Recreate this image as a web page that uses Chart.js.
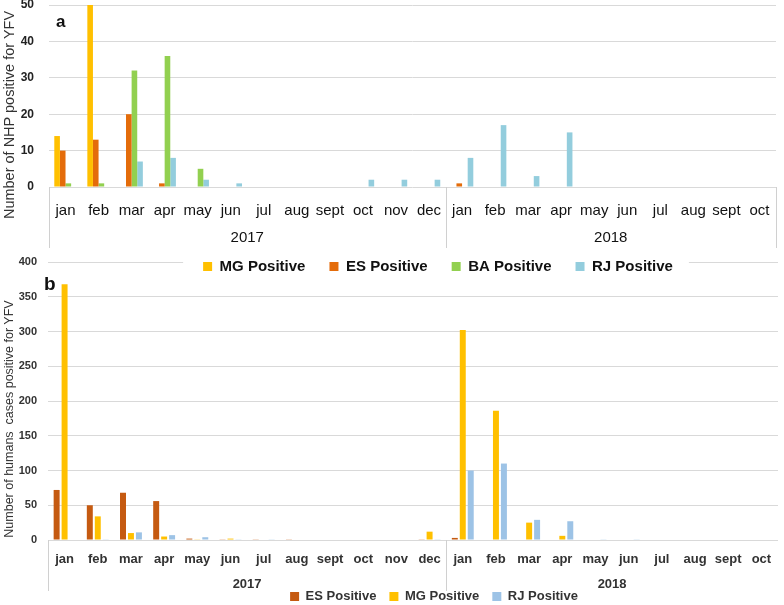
<!DOCTYPE html>
<html>
<head>
<meta charset="utf-8">
<script src="https://cdn.jsdelivr.net/npm/chart.js@4.4.1/dist/chart.umd.min.js"></script>
<style>
  html, body { margin: 0; padding: 0; background: #fff; overflow: hidden; }
  #lienzo { position: relative; width: 784px; height: 605px; font-family: 'Liberation Sans', Arial, sans-serif; }
  canvas { position: absolute; left: 0; }
  .titulo-y { position: absolute; white-space: nowrap; text-align: center; transform: rotate(-90deg); transform-origin: center center; color: #333; }
  .panel { position: absolute; font-weight: bold; color: #111; }
</style>
</head>
<body>
<div id="lienzo">
  <canvas id="graficoHumanos" width="784" height="368" style="top:245px"></canvas>
  <canvas id="graficoNHP" width="784" height="284" style="top:0px"></canvas>
  <div class="panel" style="left:56px;top:12px;font-size:17px">a</div>
  <div class="panel" style="left:44px;top:273px;font-size:19px">b</div>
  <div class="titulo-y" style="width:260px;left:-121px;top:106px;font-size:14.5px;line-height:18px">Number of NHP positive for YFV</div>
  <div class="titulo-y" style="width:280px;left:-131px;top:411px;font-size:12.5px;line-height:16px">Number of humans&nbsp; cases positive for YFV</div>
</div>
<script>
// meses y años (eje x de dos niveles)
const meses = ['jan','feb','mar','apr','may','jun','jul','aug','sept','oct','nov','dec',
               'jan','feb','mar','apr','may','jun','jul','aug','sept','oct'];
const anios = ['2017', '2018'];
const mesesPorAnio = [12, 10];

// panel a: primates no humanos (NHP)
const nhpMG = [14,50,0,0,0,0,0,0,0,0,0,0, 0,0,0,0,0,0,0,0,0,0];
const nhpES = [10,13,20,1,0,0,0,0,0,0,0,0, 1,0,0,0,0,0,0,0,0,0];
const nhpBA = [1,1,32,36,5,0,0,0,0,0,0,0, 0,0,0,0,0,0,0,0,0,0];
const nhpRJ = [0,0,7,8,2,1,0,0,0,2,2,2, 8,17,3,15,0,0,0,0,0,0];

// panel b: casos humanos
const humES = [72,50,68,56,2,1,1,1,0,0,0,1, 3,0,0,0,0,0,0,0,0,0];
const humMG = [368,34,10,5,1,2,0,0,0,0,0,12, 302,186,25,6,0,0,0,0,0,0];
const humRJ = [0,1,11,7,4,1,1,0,0,0,0,1, 100,110,29,27,1,1,0,0,0,0];

const fuente = "'Liberation Sans', Arial, sans-serif";

// dibuja la fila de años y las líneas separadoras bajo el eje x
const cajaAnios = {
  id: 'cajaAnios',
  afterDraw(chart, args, opts) {
    const x = chart.scales.x;
    const ctx = chart.ctx;
    const paso = x.getPixelForValue(1) - x.getPixelForValue(0);
    const base = chart.chartArea.bottom;
    const bordes = [x.getPixelForValue(0) - paso / 2];
    ctx.save();
    ctx.font = opts.font;
    ctx.fillStyle = opts.color;
    ctx.textAlign = 'center';
    ctx.textBaseline = 'middle';
    let inicio = 0;
    mesesPorAnio.forEach((n, i) => {
      const izq = x.getPixelForValue(inicio) - paso / 2;
      const der = x.getPixelForValue(inicio + n - 1) + paso / 2;
      ctx.fillText(anios[i], (izq + der) / 2, opts.yearY);
      bordes.push(der);
      inicio += n;
    });
    if (!opts.lineaDerecha) bordes.pop();
    ctx.strokeStyle = opts.lineColor;
    ctx.lineWidth = 1;
    bordes.forEach(b => {
      const px = Math.round(b) + 0.5;
      ctx.beginPath();
      ctx.moveTo(px, base);
      ctx.lineTo(px, opts.lineBottom);
      ctx.stroke();
    });
    ctx.restore();
  }
};

// desplaza la leyenda y le pone fondo blanco
const leyendaFondo = {
  id: 'leyendaFondo',
  afterLayout(chart, args, opts) {
    const l = chart.legend;
    l.left += opts.shift;
    l.right += opts.shift;
  },
  beforeDraw(chart, args, opts) {
    if (!opts.fondo) return;
    const l = chart.legend;
    const ancho = l.lineWidths[0];
    const centro = (l.left + l.right) / 2;
    const pad = l.options.labels.padding;
    const ctx = chart.ctx;
    ctx.save();
    ctx.fillStyle = '#fff';
    ctx.fillRect(centro - ancho / 2 - 8, l.top + pad - 4, ancho + 12, 24);
    ctx.restore();
  }
};

new Chart(document.getElementById('graficoNHP').getContext('2d'), {
  type: 'bar',
  data: {
    labels: meses,
    datasets: [
      { label: 'MG Positive', data: nhpMG, backgroundColor: '#FFC000' },
      { label: 'ES Positive', data: nhpES, backgroundColor: '#E46C0A' },
      { label: 'BA Positive', data: nhpBA, backgroundColor: '#92D050' },
      { label: 'RJ Positive', data: nhpRJ, backgroundColor: '#93CDDD' }
    ]
  },
  options: {
    responsive: false,
    animation: false,
    datasets: { bar: { categoryPercentage: 0.68, barPercentage: 1.0 } },
    layout: { padding: { top: 0, right: 8, left: 0, bottom: 0 } },
    plugins: {
      tooltip: { enabled: false },
      legend: {
        position: 'bottom',
        labels: { boxWidth: 9, boxHeight: 9, padding: 24, color: '#111',
                  font: { family: fuente, size: 15, weight: 'bold' } }
      },
      leyendaFondo: { shift: 50, fondo: true },
      cajaAnios: { yearY: 238, lineBottom: 248, lineaDerecha: true, lineColor: '#d0d0d0',
                   color: '#111', font: '15px ' + fuente }
    },
    scales: {
      x: {
        grid: { display: false },
        border: { display: false },
        ticks: { autoSkip: false, maxRotation: 0, padding: 7, color: '#111',
                 font: { family: fuente, size: 15 } },
        afterFit(s) { s.height = 48; }
      },
      y: {
        min: 0, max: 50,
        border: { display: false },
        grid: { color: '#d9d9d9', drawTicks: false },
        ticks: { stepSize: 10, padding: 15, color: '#222', font: { family: fuente, size: 12, weight: 'bold' } },
        afterFit(s) { s.width = 49; s.paddingTop = 5; s.paddingBottom = 0; }
      }
    }
  },
  plugins: [cajaAnios, leyendaFondo]
});

new Chart(document.getElementById('graficoHumanos').getContext('2d'), {
  type: 'bar',
  data: {
    labels: meses,
    datasets: [
      { label: 'ES Positive', data: humES, backgroundColor: '#C55A11' },
      { label: 'MG Positive', data: humMG, backgroundColor: '#FFC000' },
      { label: 'RJ Positive', data: humRJ, backgroundColor: '#9DC3E6' }
    ]
  },
  options: {
    responsive: false,
    animation: false,
    datasets: { bar: { categoryPercentage: 0.72, barPercentage: 0.75 } },
    layout: { padding: { top: 17, right: 6, left: 0, bottom: 0 } },
    plugins: {
      tooltip: { enabled: false },
      legend: {
        position: 'bottom',
        labels: { boxWidth: 9, boxHeight: 9, padding: 13, color: '#333',
                  font: { family: fuente, size: 13, weight: 'bold' } }
      },
      leyendaFondo: { shift: 45, fondo: false },
      cajaAnios: { yearY: 339, lineBottom: 346, lineaDerecha: false, lineColor: '#d0d0d0',
                   color: '#333', font: 'bold 13px ' + fuente }
    },
    scales: {
      x: {
        grid: { display: false },
        border: { display: false },
        ticks: { autoSkip: false, maxRotation: 0, padding: 4, color: '#333',
                 font: { family: fuente, size: 13, weight: 'bold' } },
        afterFit(s) { s.height = 37; }
      },
      y: {
        min: 0, max: 400,
        border: { display: false },
        grid: { color: '#d9d9d9', drawTicks: false },
        ticks: { stepSize: 50, padding: 11, color: '#333', font: { family: fuente, size: 11, weight: 'bold' } },
        afterFit(s) { s.width = 48; s.paddingTop = 0; s.paddingBottom = 0; }
      }
    }
  },
  plugins: [cajaAnios, leyendaFondo]
});
</script>
</body>
</html>
